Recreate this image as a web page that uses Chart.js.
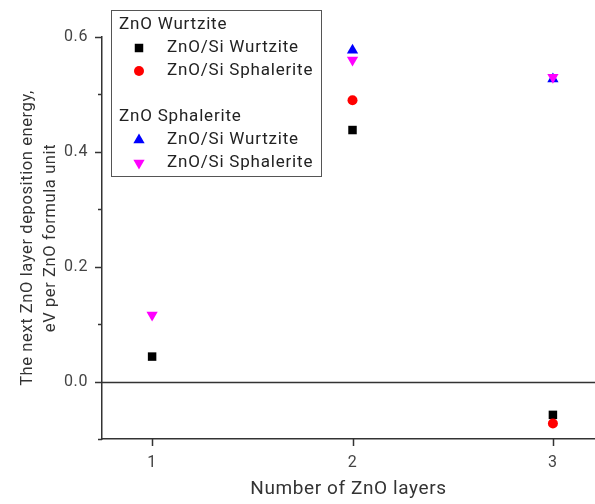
<!DOCTYPE html>
<html>
<head>
<meta charset="utf-8">
<script src="https://cdn.jsdelivr.net/npm/chart.js@4.4.1/dist/chart.umd.min.js"></script>
<style>
  html, body { margin: 0; padding: 0; background: #fff; }
  #wrap { width: 595px; height: 504px; }
</style>
</head>
<body>
<div id="wrap"><canvas id="myChart" width="595" height="504"></canvas></div>
<script>
// number of ZnO layers
const layers = [1, 2, 3];
// ZnO Wurtzite group
const wzOnSiWurtzite = [0.0435, 0.438, -0.058];
const wzOnSiSphalerite = [null, 0.49, -0.073];
// ZnO Sphalerite group
const sphOnSiWurtzite = [null, 0.577, 0.527];
const sphOnSiSphalerite = [0.116, 0.56, 0.530];

const yMajorTicks = [0, 0.2, 0.4, 0.6];
const yMinorTicks = [-0.1, 0.1, 0.3, 0.5];
const xTicks = [1, 2, 3];

const FONT = 'Roboto, "Noto Sans", sans-serif';

function toPoints(vals) {
    return layers.map((l, i) => ({x: l, y: vals[i]})).filter(p => p.y !== null);
}

const seriesStyle = [
    {label: 'ZnO/Si Wurtzite', vals: wzOnSiWurtzite, color: '#000000', style: 'rect', radius: 6, rotation: 0, order: 3},
    {label: 'ZnO/Si Sphalerite', vals: wzOnSiSphalerite, color: '#ff0000', style: 'circle', radius: 5, rotation: 0, order: 2},
    {label: 'ZnO/Si Wurtzite', vals: sphOnSiWurtzite, color: '#0000ff', style: 'triangle', radius: 6.5, rotation: 0, order: 1},
    {label: 'ZnO/Si Sphalerite', vals: sphOnSiSphalerite, color: '#ff00ff', style: 'triangle', radius: 6.5, rotation: 180, order: 0}
];

// ticks, zero line and the grouped legend
const extrasPlugin = {
    id: 'extras',
    afterLayout(chart) {
        // let the x axis run to the right edge of the canvas
        const area = chart.chartArea;
        const xs = chart.scales.x;
        if (area.right < chart.width) {
            area.right = chart.width;
            area.width = area.right - area.left;
            xs.right = chart.width;
            xs.width = xs.right - xs.left;
            xs.configure();
        }
    },
    beforeDraw(chart) {
        chart.ctx.letterSpacing = '0.6px';
    },
    afterDraw(chart) {
        const ctx = chart.ctx;
        const xs = chart.scales.x, ys = chart.scales.y;
        const area = chart.chartArea;
        ctx.save();
        ctx.strokeStyle = '#333';
        ctx.lineWidth = 1.5;
        // zero line
        const y0 = Math.round(ys.getPixelForValue(0)) + 0.5;
        ctx.beginPath();
        ctx.moveTo(area.left, y0);
        ctx.lineTo(area.right, y0);
        ctx.stroke();
        // y ticks
        yMajorTicks.forEach(v => {
            const y = Math.round(ys.getPixelForValue(v)) + 0.5;
            ctx.beginPath(); ctx.moveTo(area.left - 7, y); ctx.lineTo(area.left, y); ctx.stroke();
        });
        yMinorTicks.forEach(v => {
            const y = Math.round(ys.getPixelForValue(v)) + 0.5;
            ctx.beginPath(); ctx.moveTo(area.left - 4, y); ctx.lineTo(area.left, y); ctx.stroke();
        });
        // x ticks
        xTicks.forEach(v => {
            const x = Math.round(xs.getPixelForValue(v)) + 0.5;
            ctx.beginPath(); ctx.moveTo(x, area.bottom); ctx.lineTo(x, area.bottom + 7); ctx.stroke();
        });

        // legend box
        const bx = 111.5, by = 10.5, bw = 210, bh = 166;
        ctx.fillStyle = '#fff';
        ctx.fillRect(bx, by, bw, bh);
        ctx.strokeStyle = '#555';
        ctx.lineWidth = 1;
        ctx.strokeRect(bx, by, bw, bh);

        ctx.letterSpacing = '0.8px';
        ctx.font = '17px ' + FONT;
        ctx.fillStyle = '#222';
        ctx.textBaseline = 'middle';
        ctx.textAlign = 'left';
        ctx.fillText('ZnO Wurtzite', 119, 25);
        ctx.fillText('ZnO Sphalerite', 119, 117);
        const rows = [48, 71, 140, 163];
        seriesStyle.forEach((s, i) => {
            ctx.fillStyle = s.color;
            Chart.helpers.drawPoint(ctx, {pointStyle: s.style, radius: s.radius, rotation: s.rotation, borderWidth: 0}, 139, rows[i]);
            ctx.fillStyle = '#222';
            ctx.fillText(s.label, 167, rows[i]);
        });
        ctx.restore();
    }
};

const config = {
    type: 'scatter',
    data: {
        datasets: seriesStyle.map(s => ({
            label: s.label,
            data: toPoints(s.vals),
            pointStyle: s.style,
            pointRadius: s.radius,
            pointRotation: s.rotation,
            pointBackgroundColor: s.color,
            pointBorderColor: s.color,
            pointBorderWidth: 0,
            order: s.order
        }))
    },
    options: {
        responsive: false,
        animation: false,
        layout: {padding: {top: 37, right: 0, bottom: 0, left: 0}},
        plugins: {legend: {display: false}, tooltip: {enabled: false}},
        scales: {
            x: {
                type: 'linear',
                min: 0.75,
                max: 3.21,
                afterBuildTicks: scale => { scale.ticks = xTicks.map(v => ({value: v})); },
                afterFit: scale => {
                    scale.height = 65;
                    scale.paddingLeft = 0;
                    scale.paddingRight = 0;
                },
                grid: {display: false, drawTicks: false},
                border: {display: true, color: '#333', width: 1.5},
                ticks: {
                    padding: 14,
                    color: '#444',
                    font: {family: FONT, size: 16},
                    callback: v => String(v)
                },
                title: {
                    display: true,
                    text: 'Number of ZnO layers',
                    color: '#333',
                    font: {family: FONT, size: 19},
                    padding: {top: 0, bottom: 3}
                }
            },
            y: {
                min: -0.1,
                max: 0.6,
                afterBuildTicks: scale => { scale.ticks = yMajorTicks.map(v => ({value: v})); },
                afterFit: scale => { scale.width = 102; },
                grid: {display: false, drawTicks: false},
                border: {display: true, color: '#333', width: 1.5},
                ticks: {
                    padding: 14,
                    color: '#444',
                    font: {family: FONT, size: 16},
                    callback: v => Number(v).toFixed(1)
                },
                title: {
                    display: true,
                    text: ['The next ZnO layer deposition energy,', 'eV per ZnO formula unit'],
                    color: '#333',
                    font: {family: FONT, size: 16.5, lineHeight: 1.35},
                    padding: {top: 17, bottom: 0}
                }
            }
        }
    },
    plugins: [extrasPlugin]
};

var myChart = new Chart(document.getElementById('myChart'), config);
</script>
</body>
</html>
